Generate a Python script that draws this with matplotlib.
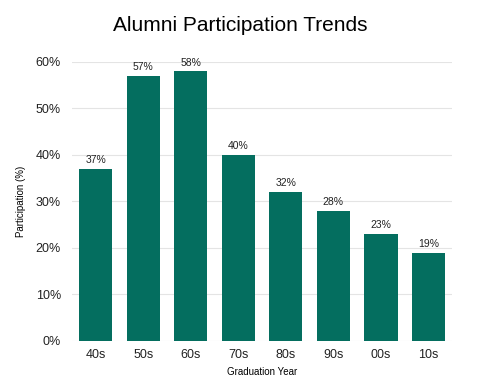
import matplotlib.pyplot as plt
from matplotlib.ticker import PercentFormatter

decades = ['40s', '50s', '60s', '70s', '80s', '90s', '00s', '10s']
participation = [37, 57, 58, 40, 32, 28, 23, 19]

plt.rcParams['font.family'] = ['Liberation Sans', 'DejaVu Sans']

fig = plt.figure(figsize=(4.8, 3.87), dpi=100)
ax = fig.add_axes([0.15, 0.119, 0.792, 0.721])

bars = ax.bar(decades, participation, width=0.7, color='#046e5f', zorder=2)
for b, v in zip(bars, participation):
    ax.text(b.get_x() + b.get_width() / 2, v + 0.8, f'{v}%', ha='center', va='bottom',
            fontsize=7.5, color='#222222', clip_on=False)

ax.set_ylim(0, 60)
ax.set_xlim(-0.5, len(decades) - 0.5)
ax.set_yticks(range(0, 61, 10))
ax.yaxis.set_major_formatter(PercentFormatter(decimals=0))
ax.grid(axis='y', color='#e4e4e4', linewidth=0.8, zorder=0)
for s in ax.spines.values():
    s.set_visible(False)
ax.tick_params(axis='both', length=0, labelsize=9, colors='#222222')
ax.tick_params(axis='y', pad=8)
ax.tick_params(axis='x', pad=6)

ax.set_xlabel('Graduation Year', fontsize=7, labelpad=4)
ax.set_ylabel('Participation (%)', fontsize=7, labelpad=7)
fig.text(0.5, 0.935, 'Alumni Participation Trends', ha='center', va='center', fontsize=15)

fig.savefig('out.png', dpi=100)
